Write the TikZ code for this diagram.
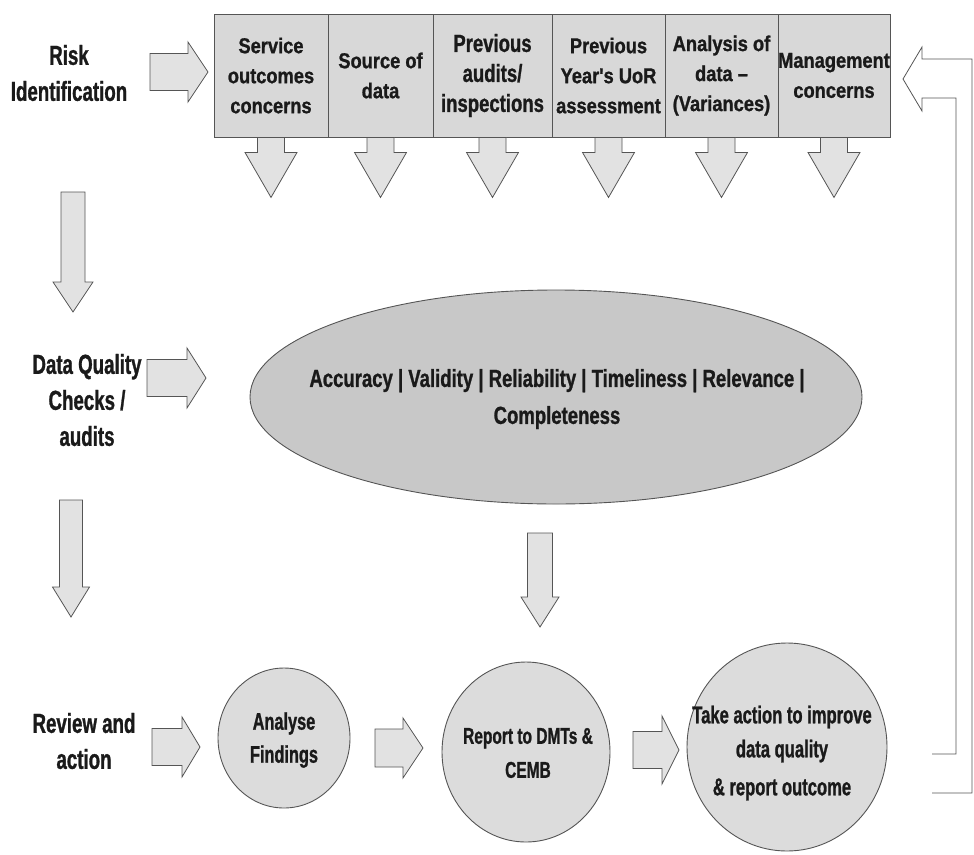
\documentclass[tikz,border=0pt]{standalone}
\usepackage{fontspec}
\setmainfont{Liberation Sans}
\newfontfamily\narA{Liberation Sans}[FakeStretch=0.75,FakeBold=1]
\newfontfamily\narB{Liberation Sans}[FakeStretch=0.85,FakeBold=1]
\newfontfamily\narC{Liberation Sans}[FakeStretch=0.68,FakeBold=1]
\usetikzlibrary{shapes.geometric}
\definecolor{boxgray}{HTML}{D8D8D8}
\definecolor{ellgray}{HTML}{C8C8C8}
\definecolor{circgray}{HTML}{DCDCDC}
\definecolor{arrgray}{HTML}{E2E2E2}
\definecolor{edgegray}{HTML}{555555}
\definecolor{inkc}{HTML}{1A1A1A}
% right-pointing block arrow: start point, shaft length, head length, shaft half, head half
\newcommand\RArr[5]{\draw[blk] (#1) ++(0,-#4) -- ++(#2,0) -- ++(0,-#5+#4) -- ++(#3,#5) -- ++(-#3,#5) -- ++(0,-#5+#4) -- ++(-#2,0) -- cycle;}
% down-pointing block arrow
\newcommand\DArr[5]{\draw[blk] (#1) ++(-#4,0) -- ++(0,#2) -- ++(-#5+#4,0) -- ++(#5,#3) -- ++(#5,-#3) -- ++(-#5+#4,0) -- ++(0,-#2) -- cycle;}
\tikzset{
 blk/.style={fill=arrgray, draw=edgegray, line width=0.8pt, line join=miter},
 catbox/.style={draw=edgegray, fill=boxgray, line width=0.9pt, minimum height=123pt, inner sep=0pt, align=center, text=inkc, font=\narB\bfseries\fontsize{21.5}{30}\selectfont},
 lbl/.style={align=center, inner sep=0pt, text=inkc, font=\narC\bfseries\fontsize{27.5}{36}\selectfont},
 circ/.style={ellipse, draw=edgegray, fill=circgray, line width=0.9pt, inner sep=0pt},
 ctext/.style={align=center, inner sep=0pt, text=inkc},
 fback/.style={draw=edgegray, line width=0.8pt, line join=miter},
}
\begin{document}
\begin{tikzpicture}[x=1pt,y=-1pt]
\useasboundingbox (0,0) rectangle (974,854);

% ---- category boxes (top row)
\node[catbox, minimum width=114pt] (b1) at (271,75.5) {Service\\outcomes\\concerns};
\node[catbox, minimum width=105pt] (b2) at (380.5,75.5) {Source of\\data};
\node[catbox, minimum width=119pt, font=\narA\bfseries\fontsize{24.7}{30}\selectfont] (b3) at (492.5,75.5) {Previous\\audits/\\inspections};
\node[catbox, minimum width=113pt] (b4) at (608.5,75.5) {Previous\\Year's UoR\\assessment};
\node[catbox, minimum width=113pt] (b5) at (721.5,75.5) {Analysis of\\data –\\(Variances)};
\node[catbox, minimum width=112pt] (b6) at (834,75.5) {Management\\concerns};

% arrows under boxes
\foreach \b in {b1,b2,b3,b4,b5,b6}{\DArr{\b.south}{15}{45}{13.5}{26}}

% ---- left column labels
\node[lbl] (risk) at (69,73) {Risk\\Identification};
\node[lbl] (dq) at (87,400) {Data Quality\\Checks /\\audits};
\node[lbl] (rev) at (84,741) {Review and\\action};

\coordinate (ra) at (150,72);
\coordinate (da1) at (73,192);
\coordinate (dqa) at (147,378);
\coordinate (da2) at (71,500);
\coordinate (rva) at (152,747);
\RArr{ra}{38}{20}{18.5}{30}
\DArr{da1}{90}{30}{12}{20}
\RArr{dqa}{40}{19}{18.5}{30}
\DArr{da2}{87}{30}{11.5}{18.5}
\RArr{rva}{30}{18}{18.5}{30}

% ---- ellipse of dimensions
\node[ellipse, draw=edgegray, fill=ellgray, line width=0.9pt, minimum width=612pt, minimum height=214pt, inner sep=0pt] (ell) at (556,397) {};
\node[ctext, font=\narA\bfseries\fontsize{24.7}{37}\selectfont] (dims) at (557,399) {Accuracy | Validity | Reliability | Timeliness | Relevance |\\Completeness};
\coordinate (ea) at (540,533);
\DArr{ea}{64}{30}{12.5}{19}

% ---- bottom row circles
\node[circ, minimum width=132pt, minimum height=140pt] (an) at (284,738) {};
\node[ctext, font=\narC\bfseries\fontsize{24}{33}\selectfont] (ant) at (284,740) {Analyse\\Findings};
\coordinate (aa) at (375,748);
\RArr{aa}{28}{20}{19}{30}
\node[circ, minimum width=168pt, minimum height=180pt] (rep) at (526,752) {};
\node[ctext, font=\narC\bfseries\fontsize{22.8}{34}\selectfont] (rept) at (528,753) {Report to DMTs \&\\CEMB};
\coordinate (pa) at (633,750);
\RArr{pa}{29}{17}{18.5}{34}
\node[circ, minimum width=200pt, minimum height=208pt] (act) at (787,747) {};
\node[ctext, font=\narC\bfseries\fontsize{24.4}{34}\selectfont] (actt) at (782,753) {Take action to improve\\data quality\\[4pt]\& report outcome};

% ---- feedback arrow (outline only) back to the top row
\coordinate (fb) at (932,754);
\draw[fback] (fb) -- (956,754) -- (956,98) -- (922,98) -- (922,111) -- (903,79) -- (922,47) -- (922,59) -- (972,59) -- (972,793) -- (932,793);
\end{tikzpicture}
\end{document}
